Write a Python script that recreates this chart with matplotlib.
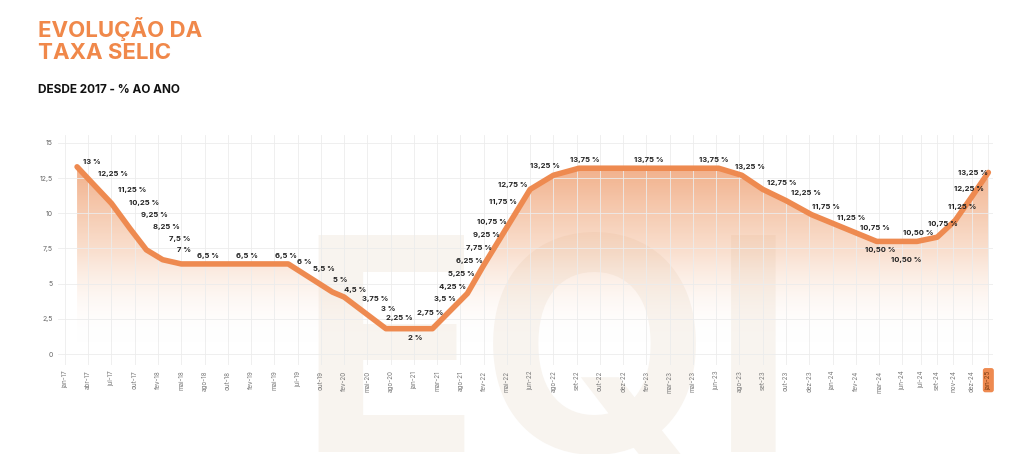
import matplotlib
matplotlib.use("Agg")
import matplotlib.pyplot as plt
import numpy as np
from matplotlib.patches import Polygon
from matplotlib.colors import LinearSegmentedColormap

tick_labels = ["jan-17","abr-17","jul-17","out-17","fev-18","mai-18","ago-18","out-18","fev-19","mai-19",
               "jul-19","out-19","fev-20","mai-20","ago-20","jan-21","mar-21","ago-21","fev-22","mai-22",
               "jun-22","ago-22","set-22","out-22","dez-22","fev-23","mar-23","mai-23","jun-23","ago-23",
               "set-23","out-23","dez-23","jan-24","fev-24","mar-24","jun-24","jul-24","set-24","nov-24",
               "dez-24","jan-25"]
tick_pos = list(range(37)) + [36.8, 37.5, 38.2, 39.0, 39.7]

line_x = [0.52, 1.2, 2.0, 2.8, 3.5, 4.2, 5.0, 9.6, 11.5, 12.0, 13.8, 15.8, 17.3, 18.0, 19.0, 20.0, 21.0, 22.1,
          28.1, 29.1, 30.0, 31.0, 32.1, 34.9, 36.63, 37.5, 38.28, 39.0, 39.7]
line_y = [13.3, 12.1, 10.7, 8.9, 7.4, 6.7, 6.4, 6.4, 4.4, 4.05, 1.8, 1.8, 4.3, 6.3, 9.0, 11.7, 12.7, 13.2,
          13.2, 12.7, 11.7, 10.9, 9.9, 8.0, 8.0, 8.3, 9.5, 11.2, 12.9]

labels = ["13 %","12,25 %","11,25 %","10,25 %","9,25 %","8,25 %","7,5 %","7 %","6,5 %","6,5 %","6,5 %",
          "6 %","5,5 %","5 %","4,5 %","3,75 %","3 %","2,25 %","2 %","2,75 %","3,5 %","4,25 %","5,25 %",
          "6,25 %","7,75 %","9,25 %","10,75 %","11,75 %","12,75 %","13,25 %","13,75 %","13,75 %","13,75 %",
          "13,25 %","12,75 %","12,25 %","11,75 %","11,25 %","10,75 %","10,50 %","10,50 %","10,50 %",
          "10,75 %","11,25 %","12,25 %","13,25 %"]
label_px = [(83,162),(98,174),(118,190),(129,203),(141,215),(153,227),(169,239),(177,250),(197,256),(236,256),
            (275,256),(297,262),(313,269),(333,280),(344,290),(362,299),(381,309),(386,318),(408,338),(417,313),
            (434,299),(439,287),(448,274),(456,261),(466,248),(473,235),(477,222),(489,202),(498,185),
            (530,166),(570,160),(634,160),(699,160),(735,167),(767,183),(791,193),(812,207),(837,218),(860,228),
            (865,250),(891,260),(903,233),(928,224),(948,207),(954,189),(958,173)]

W, H = 1024, 454
fig = plt.figure(figsize=(W/100, H/100), dpi=100)
fig.patch.set_facecolor("white")

# faint watermark behind everything
fig.text(298/W, 1-452/H, "EQI", fontsize=215, fontweight="bold", color="#f8f4ef",
         family="Inter", ha="left", va="baseline", zorder=-5)

ax = fig.add_axes([58/W, 1-365/H, (993-58)/W, (365-135)/H], zorder=1)
ax.patch.set_alpha(0)
ax.set_xlim(-0.3, 39.9)
ax.set_ylim(-0.78, 15.56)

orange = "#EE8A50"
grad = np.linspace(0, 1, 256).reshape(-1, 1)
cmap = LinearSegmentedColormap.from_list("g", [(1,1,1,0), (0.94,0.66,0.48,0.35), (0.93,0.58,0.38,0.75)])
im = ax.imshow(grad, extent=[-0.3, 39.9, 0.8, 13.4], origin="lower", cmap=cmap, aspect="auto", zorder=1)
poly = Polygon(list(zip(line_x, line_y)) + [(line_x[-1], 0.8), (line_x[0], 0.8)], closed=True,
               transform=ax.transData, facecolor="none", edgecolor="none")
ax.add_patch(poly)
im.set_clip_path(poly)

ax.plot(line_x, line_y, color=orange, lw=4, solid_joinstyle="round", solid_capstyle="round", zorder=3)

for lab, (px, py) in zip(labels, label_px):
    fig.text(px/W, 1-py/H, lab, fontsize=5.5, fontweight="bold", color="#222222",
             family="Inter", ha="left", va="center", zorder=5)

ax.set_xticks(tick_pos)
ax.set_xticklabels(tick_labels, rotation=90, fontsize=4.5, color="#777777", family="Inter")
ax.set_yticks([0, 2.5, 5, 7.5, 10, 12.5, 15])
ax.set_yticklabels(["0", "2,5", "5", "7,5", "10", "12,5", "15"], fontsize=5, color="#666666", family="Inter")
ax.tick_params(length=0, pad=4)
ax.grid(True, color="#ececec", lw=0.6, zorder=0)
for s in ax.spines.values():
    s.set_visible(False)
last = ax.get_xticklabels()[-1]
last.set_color("#7a3a10")
last.set_bbox(dict(boxstyle="round,pad=0.4", facecolor=orange, edgecolor="none"))

fig.text(38/W, 1-40/H, "EVOLUÇÃO DA\nTAXA SELIC", fontsize=16, fontweight="bold", color="#F0884A",
         family="Inter", ha="left", va="center", linespacing=1.1)
fig.text(38/W, 1-90/H, "DESDE 2017 - % AO ANO", fontsize=8.5, fontweight="bold", color="#111111",
         family="Inter", ha="left", va="center")

fig.savefig("out.png", dpi=100)
